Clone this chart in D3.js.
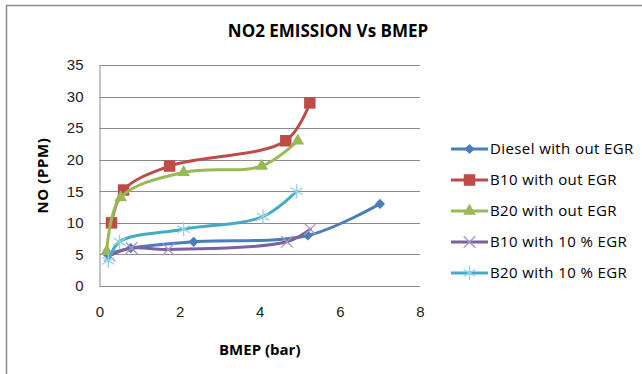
<!DOCTYPE html>
<html>
<head>
<meta charset="utf-8">
<script src="https://cdn.jsdelivr.net/npm/d3@7"></script>
<style>
  body { margin: 0; background: #fff; }
  svg { display: block; font-family: "Open Sans", sans-serif; }
  .grid line { stroke: #8c8c8c; stroke-width: 1; }
  .axis text { font-size: 15px; fill: #222; }
  .axis path, .axis line { stroke: #8c8c8c; }
</style>
</head>
<body>
<div class="chart-wrapper"></div>
<script>
const names = ['Diesel with out EGR', 'B10 with out EGR', 'B20 with out EGR', 'B10 with 10 % EGR', 'B20 with 10 % EGR']

const dieselX = [0.2, 0.78, 2.35, 5.2, 7.0]
const dieselY = [5, 6, 7, 8, 13]

const b10X = [0.3, 0.6, 1.75, 4.65, 5.25]
const b10Y = [10, 15.2, 19, 23, 29]

const b20X = [0.18, 0.53, 2.1, 4.05, 4.95]
const b20Y = [5.5, 14, 18, 19, 23]

const b10egrX = [0.25, 0.8, 1.72, 4.68, 5.26]
const b10egrY = [4.8, 6, 5.8, 7, 9]

const b20egrX = [0.22, 0.5, 2.1, 4.08, 4.92]
const b20egrY = [4, 7, 9, 11, 15]

const xTicks = [0, 2, 4, 6, 8]
const yTicks = [0, 5, 10, 15, 20, 25, 30, 35]

const width = 642
const height = 374
const margin = {top: 65, right: 222, bottom: 88, left: 99.5}

const lineColors = ['#4A7EBB', '#BE4B48', '#98B954', '#7D60A0', '#46AAC5']
const markColors = ['#4A7EBB', '#BE4B48', '#98B954', '#A895C8', '#8ED3E8']

const series = [
  {name: names[0], xs: dieselX, ys: dieselY, mark: 'diamond'},
  {name: names[1], xs: b10X, ys: b10Y, mark: 'square'},
  {name: names[2], xs: b20X, ys: b20Y, mark: 'triangle'},
  {name: names[3], xs: b10egrX, ys: b10egrY, mark: 'x'},
  {name: names[4], xs: b20egrX, ys: b20egrY, mark: 'asterisk'}
]

let x = d3.scaleLinear().domain([0, 8]).range([margin.left, width - margin.right])
let y = d3.scaleLinear().domain([0, 35]).range([height - margin.bottom, margin.top])

let svg = d3.select('.chart-wrapper')
.append('svg')
.attr('width', width)
.attr('height', height)

// outer chart frame
svg.append('path')
.attr('d', 'M6.5,' + height + 'V5.5H' + width)
.attr('fill', 'none')
.attr('stroke', '#8a8a8a')
.attr('stroke-width', 1.5)

svg.append('text')
.attr('x', 328)
.attr('y', 37)
.attr('text-anchor', 'middle')
.style('font-size', '17px')
.style('font-weight', 'bold')
.text('NO2 EMISSION Vs BMEP')

// gridlines
svg.append('g')
.attr('class', 'grid')
.selectAll('line')
.data(yTicks.slice(1))
.join('line')
.attr('x1', x(0))
.attr('x2', x(8))
.attr('y1', d => Math.round(y(d)) + 0.5)
.attr('y2', d => Math.round(y(d)) + 0.5)

let yaxis = svg.append('g')
.attr('class', 'axis')
.attr('transform', 'translate(' + x(0) + ',0)')
.call(d3.axisLeft(y).tickValues(yTicks).tickSize(0).tickPadding(16))

let xaxis = svg.append('g')
.attr('class', 'axis')
.attr('transform', 'translate(0,' + y(0) + ')')
.call(d3.axisBottom(x).tickValues(xTicks).tickSize(0).tickPadding(20))

xaxis.select('.domain').attr('d', 'M' + x(0) + ',0.5H' + x(8))
yaxis.select('.domain').attr('d', 'M0.5,' + y(0) + 'V' + y(35))

svg.append('text')
.attr('x', (x(0) + x(8)) / 2)
.attr('y', 355)
.attr('text-anchor', 'middle')
.style('font-size', '15px')
.style('font-weight', 'bold')
.text('BMEP (bar)')

svg.append('text')
.attr('transform', 'translate(48,' + (y(0) + y(35)) / 2 + ') rotate(-90)')
.attr('text-anchor', 'middle')
.style('font-size', '15px')
.style('font-weight', 'bold')
.style('letter-spacing', '0.6px')
.text('NO (PPM)')

let line = d3.line()
.x(d => x(d[0]))
.y(d => y(d[1]))
.curve(d3.curveCatmullRom.alpha(0.5))

function drawMark(g, type, color){
  if(type === 'diamond'){
    g.append('path').attr('d', d3.symbol(d3.symbolSquare, 52)()).attr('transform', 'rotate(45)').attr('fill', color)
  } else if(type === 'square'){
    g.append('path').attr('d', d3.symbol(d3.symbolSquare, 132)()).attr('fill', color)
  } else if(type === 'triangle'){
    g.append('path').attr('d', d3.symbol(d3.symbolTriangle, 70)()).attr('fill', color)
  } else if(type === 'x'){
    g.append('path').attr('d', d3.symbol(d3.symbolX, 90)()).attr('fill', 'none').attr('stroke', color).attr('stroke-width', 1.3)
  } else {
    g.append('path').attr('d', d3.symbol(d3.symbolAsterisk, 140)()).attr('fill', 'none').attr('stroke', color).attr('stroke-width', 1.3)
  }
}

series.forEach((s, i) => {
  let pts = s.xs.map((v, j) => [v, s.ys[j]])
  let g = svg.append('g')
  g.append('path')
  .datum(pts)
  .attr('d', line)
  .attr('fill', 'none')
  .attr('stroke', lineColors[i])
  .attr('stroke-width', 3)
  .attr('stroke-linecap', 'round')

  pts.forEach(p => {
    let m = g.append('g').attr('transform', 'translate(' + x(p[0]) + ',' + y(p[1]) + ')')
    drawMark(m, s.mark, markColors[i])
  })
})

// legend
let legend = svg.append('g')
.selectAll('g')
.data(series)
.join('g')
.attr('transform', (d, i) => 'translate(451,' + (149 + i * 31) + ')')

legend.append('line')
.attr('x1', 0)
.attr('x2', 37)
.attr('stroke', (d, i) => lineColors[i])
.attr('stroke-width', 3)

legend.each(function(d, i){
  let m = d3.select(this).append('g').attr('transform', 'translate(18.5,0)')
  drawMark(m, d.mark, markColors[i])
})

legend.append('text')
.attr('x', 39)
.attr('dy', '0.35em')
.style('font-size', '15px')
.style('letter-spacing', '0.4px')
.text(d => d.name)
</script>
</body>
</html>
